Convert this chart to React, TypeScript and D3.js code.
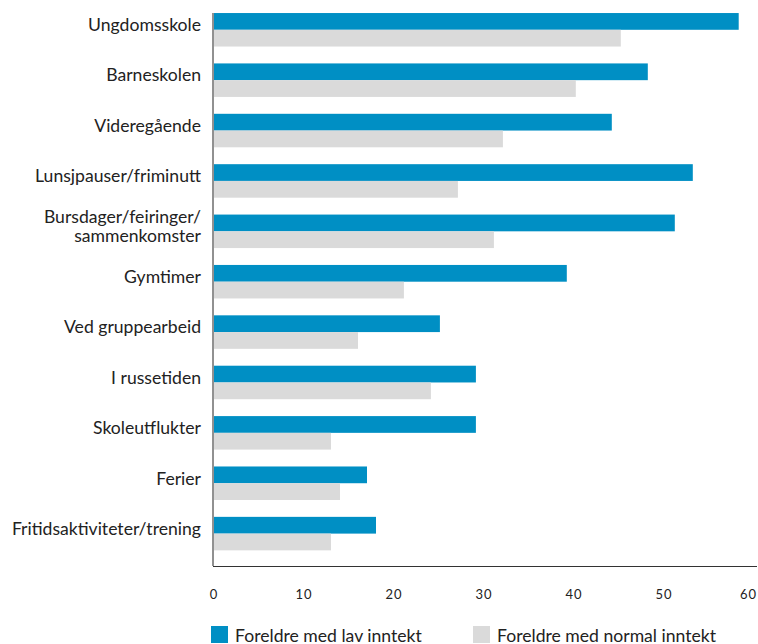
import React from "react";
import * as d3 from "d3";

const categories: string[][] = [
  ["Ungdomsskole"],
  ["Barneskolen"],
  ["Videregående"],
  ["Lunsjpauser/friminutt"],
  ["Bursdager/feiringer/", "sammenkomster"],
  ["Gymtimer"],
  ["Ved gruppearbeid"],
  ["I russetiden"],
  ["Skoleutflukter"],
  ["Ferier"],
  ["Fritidsaktiviteter/trening"],
];
const lowIncome: number[] = [58.3, 48.2, 44.2, 53.2, 51.2, 39.2, 25.1, 29.1, 29.1, 17, 18];
const normalIncome: number[] = [45.2, 40.2, 32.1, 27.1, 31.1, 21.1, 16, 24.1, 13, 14, 13];
const ticks: number[] = [0, 10, 20, 30, 40, 50, 60];
const seriesNames: string[] = ["Foreldre med lav inntekt", "Foreldre med normal inntekt"];
const colors = ["#008fc4", "#dadada"];

const W = 758;
const H = 644;
const FONT = "Lato, 'Open Sans', sans-serif";

export default function App() {
  const keys = categories.map((c) => c.join(" "));
  const x = d3.scaleLinear().domain([0, 60]).range([214, 754]);
  const y = d3
    .scaleBand<string>()
    .domain(keys)
    .range([4.6, 558.8])
    .paddingInner(0.335)
    .paddingOuter(0.1675);
  const sub = d3.scaleBand<number>().domain([0, 1]).range([0, y.bandwidth()]);
  const series = [lowIncome, normalIncome];
  const axisBottom = 566;

  return (
    <svg
      width={W}
      height={H}
      style={{ position: "absolute", left: 0, top: 0, background: "#fff" }}
      fontFamily={FONT}
    >
      {series.map((vals, si) =>
        vals.map((v, i) => (
          <rect
            key={`${si}-${i}`}
            x={x(0)}
            y={(y(keys[i]) as number) + (sub(si) as number)}
            width={x(v) - x(0)}
            height={sub.bandwidth()}
            fill={colors[si]}
          />
        ))
      )}
      <line x1={213} x2={213} y1={13} y2={axisBottom} stroke="#222" strokeWidth={1} />
      <line x1={213} x2={757} y1={axisBottom + 0.5} y2={axisBottom + 0.5} stroke="#333" strokeWidth={1} />
      {categories.map((lines, i) => {
        const cy = (y(keys[i]) as number) + y.bandwidth() / 2;
        const lh = 18.7;
        const start = cy + 1.3 - ((lines.length - 1) * lh) / 2;
        return (
          <text key={i} textAnchor="end" fontSize={17.6} fill="#222">
            {lines.map((l, j) => (
              <tspan key={j} x={201} y={start + j * lh}>
                {l}
              </tspan>
            ))}
          </text>
        );
      })}
      {ticks.map((t, i) => (
        <text
          key={t}
          x={i === ticks.length - 1 ? 757 : x(t)}
          y={599}
          textAnchor={i === ticks.length - 1 ? "end" : "middle"}
          fontSize={13}
          letterSpacing={1}
          fill="#222"
        >
          {t}
        </text>
      ))}
      {seriesNames.map((name, i) => {
        const lx = i === 0 ? 211 : 473;
        return (
          <g key={name}>
            <rect x={lx} y={626} width={17} height={17} fill={colors[i]} />
            <text x={lx + 24} y={642} fontSize={17.6} fill="#222">
              {name}
            </text>
          </g>
        );
      })}
    </svg>
  );
}
